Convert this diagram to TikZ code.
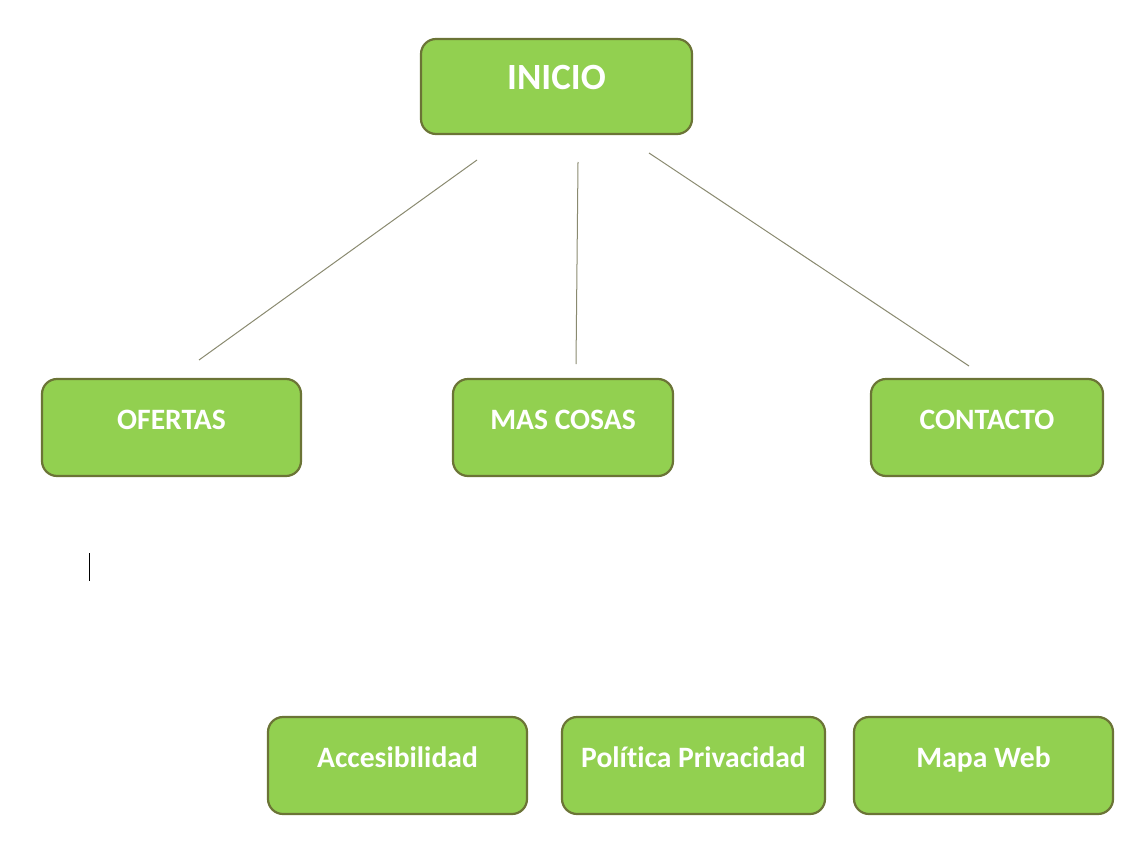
\documentclass[tikz,border=0pt]{standalone}
\usepackage{fontspec}
\setmainfont[Ligatures=NoCommon]{Carlito}
\usepackage{xcolor}
\definecolor{boxfill}{HTML}{92D050}
\definecolor{boxline}{HTML}{6B7436}
\definecolor{linkline}{HTML}{8A8A70}
\tikzset{
  menubox/.style={draw=boxline,line width=1.1pt,fill=boxfill,rounded corners=7.5pt,
    text=white,font=\bfseries\fontsize{14.8}{16}\selectfont,
    minimum height=48.5pt,text height=9.5pt,text depth=8pt,inner sep=0pt},
  link/.style={draw=linkline,line width=0.5pt}
}
\begin{document}
\begin{tikzpicture}[x=0.5pt,y=-0.5pt]
  \useasboundingbox (0,0) rectangle (1143,845);
  \node[menubox,minimum width=135.5pt,minimum height=47.5pt,
    font=\bfseries\fontsize{18.5}{20}\selectfont,text height=12pt,text depth=8.5pt]
    (inicio) at (556.5,86.5) {INICIO};
  \node[menubox,minimum width=129.5pt] (ofertas) at (171.5,427.5) {OFERTAS};
  \node[menubox,minimum width=110pt] (mascosas) at (563,427.5) {MAS COSAS};
  \node[menubox,minimum width=116pt] (contacto) at (987,427.5) {CONTACTO};
  \node[menubox,minimum width=129.5pt] (accesib) at (397.5,765.5) {Accesibilidad};
  \node[menubox,minimum width=131.5pt] (privacidad) at (693.5,765.5) {Política Privacidad};
  \node[menubox,minimum width=129.5pt] (mapaweb) at (983.5,765.5) {Mapa Web};
  \coordinate (inicioa) at (477,160); \coordinate (ofertasa) at (199,360);
  \coordinate (iniciob) at (578,162); \coordinate (mascosasa) at (576,364);
  \coordinate (inicioc) at (649,153); \coordinate (contactoa) at (969,366);
  \draw[link] (inicioa) -- (ofertasa);
  \draw[link] (iniciob) -- (mascosasa);
  \draw[link] (inicioc) -- (contactoa);
  \draw[line width=0.5pt] (89.5,553) -- (89.5,581);
\end{tikzpicture}
\end{document}
